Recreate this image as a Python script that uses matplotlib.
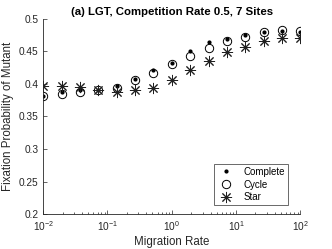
import numpy as np
import matplotlib
matplotlib.use("Agg")
import matplotlib.pyplot as plt

plt.rcParams['font.family'] = ['Liberation Sans', 'DejaVu Sans']

# migration rates, 15 points from 1e-2 to 1e2
migration = np.logspace(-2, 2, 15)

complete = [0.382, 0.388, 0.390, 0.391, 0.396, 0.408, 0.421, 0.432,
            0.451, 0.464, 0.469, 0.475, 0.479, 0.481, 0.480]
cycle = [0.382, 0.385, 0.388, 0.391, 0.393, 0.406, 0.417, 0.430,
         0.443, 0.455, 0.465, 0.472, 0.479, 0.483, 0.481]
star = [0.397, 0.396, 0.395, 0.390, 0.388, 0.391, 0.394, 0.406,
        0.421, 0.435, 0.449, 0.457, 0.465, 0.470, 0.470]

fig = plt.figure(figsize=(3.32, 2.49), dpi=100)
ax = fig.add_axes([0.13, 0.14, 0.775, 0.785])

ax.plot(migration, complete, linestyle='none', marker='.', color='black',
        markersize=4, label='Complete')
ax.plot(migration, cycle, linestyle='none', marker='o', markerfacecolor='none',
        markeredgecolor='black', markersize=6, markeredgewidth=0.7, label='Cycle')
ax.plot(migration, star, linestyle='none', marker=(8, 2, 0), color='#202020',
        markersize=8, markeredgewidth=0.7, label='Star')

ax.set_xscale('log')
ax.set_xlim(1e-2, 1e2)
ax.set_ylim(0.2, 0.5)
ax.set_yticks([0.2, 0.25, 0.3, 0.35, 0.4, 0.45, 0.5])
ax.set_yticklabels(['0.2', '0.25', '0.3', '0.35', '0.4', '0.45', '0.5'])

for s in ['top', 'right']:
    ax.spines[s].set_visible(False)
for s in ['left', 'bottom']:
    ax.spines[s].set_linewidth(0.6)
    ax.spines[s].set_color('#262626')

ax.tick_params(which='both', direction='in', labelsize=7.3, colors='#262626',
               width=0.5)
ax.tick_params(which='major', length=3)
ax.tick_params(which='minor', length=1.5)

ax.set_xlabel('Migration Rate', fontsize=8.3, color='#262626', labelpad=2)
ax.set_ylabel('Fixation Probability of Mutant', fontsize=8.3, color='#262626', labelpad=3)
ax.set_title('(a) LGT, Competition Rate 0.5, 7 Sites', fontsize=8.2, fontweight='bold', pad=3)

leg = ax.legend(loc='lower right', fontsize=7, frameon=True, fancybox=False,
                edgecolor='#262626', borderpad=0.3, labelspacing=0.3,
                handletextpad=0.9, handlelength=1.8, bbox_to_anchor=(0.97, 0.02))
leg.get_frame().set_linewidth(0.6)

fig.savefig('out.png', dpi=100)
